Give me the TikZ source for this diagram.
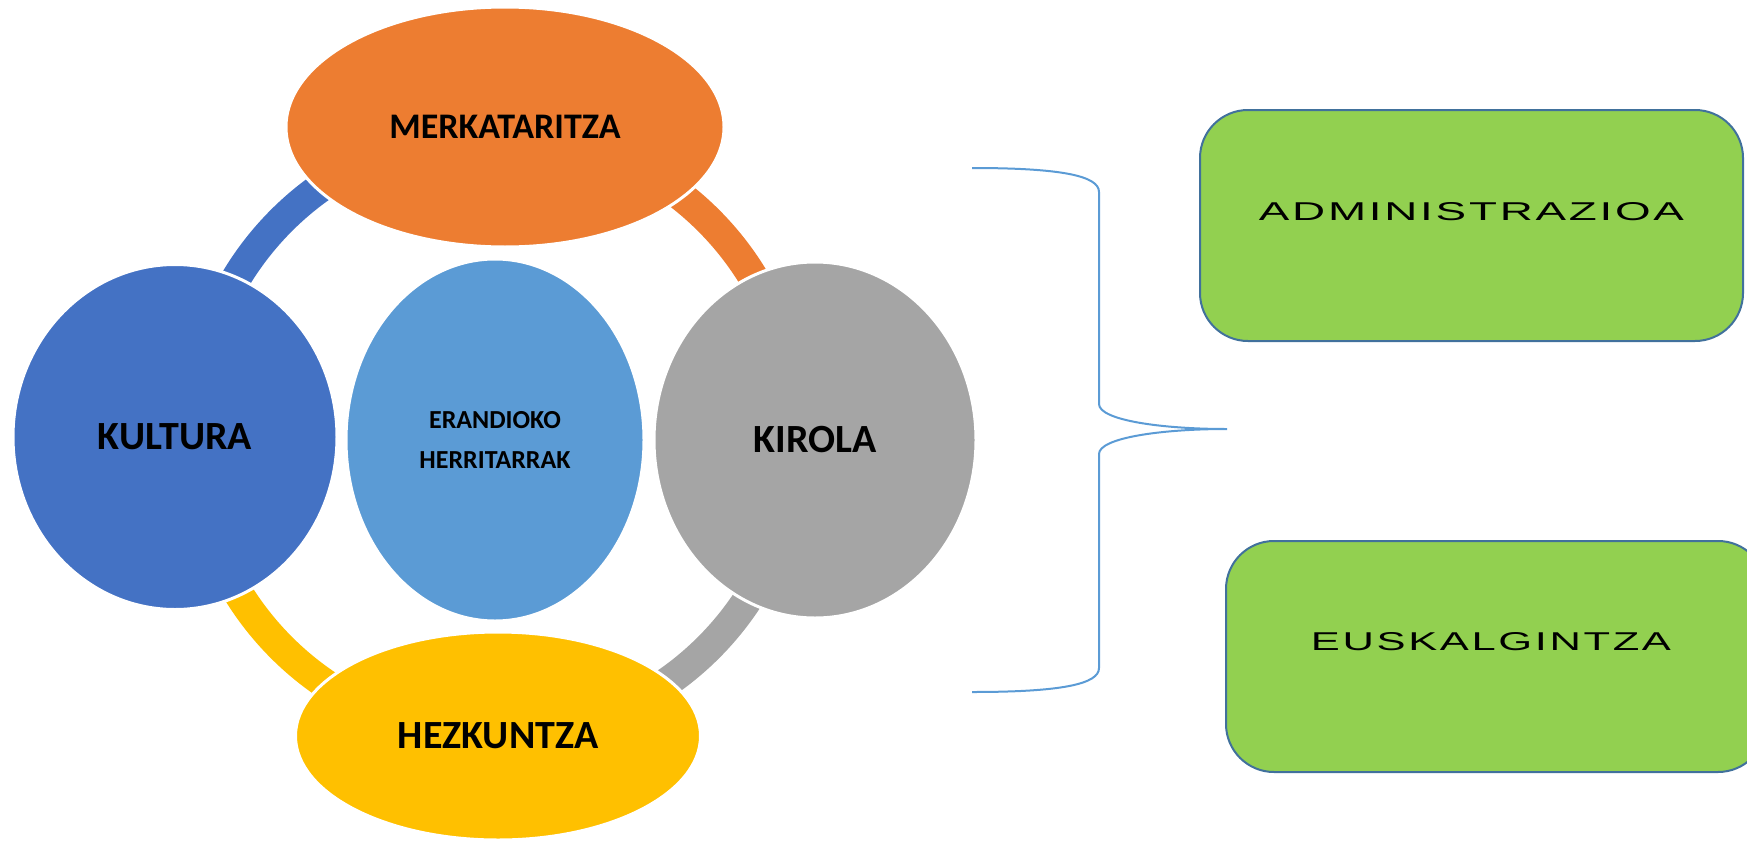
\documentclass[tikz,border=0pt]{standalone}
\usepackage{fontspec}
\usetikzlibrary{shapes.geometric}
\newfontfamily\calibri{Carlito}
\newfontfamily\arialfont{Liberation Sans}
\definecolor{merkorange}{HTML}{ED7D31}
\definecolor{kulturablue}{HTML}{4472C4}
\definecolor{herriblue}{HTML}{5B9BD5}
\definecolor{kirolagray}{HTML}{A5A5A5}
\definecolor{hezkyellow}{HTML}{FFC000}
\definecolor{areagreen}{HTML}{92D050}
\definecolor{boxedge}{HTML}{41719C}
\begin{document}
\begin{tikzpicture}[x=1pt, y=-1pt,
  bubble/.style={ellipse, draw=white, line width=3pt, inner sep=0pt,
    font=\calibri\bfseries\fontsize{40}{48}\selectfont},
  cyclearc/.style={line width=30pt},
  areabox/.style={rectangle, rounded corners=48pt, fill=areagreen,
    draw=boxedge, line width=2pt, inner sep=0pt, minimum height=231pt},
  bracket/.style={draw=herriblue, line width=2pt}]
    \newcommand{\areaLabel}[2]{
        \resizebox{#1}{18pt}{\arialfont\addfontfeature{LetterSpace=6}#2}
    }
  \useasboundingbox (0,0) rectangle (1747,843);
  \coordinate (hub) at (495,434);
  \foreach \col/\a in {kulturablue/180, merkorange/270, kirolagray/0, hezkyellow/90}
    \draw[cyclearc, color=\col] (hub) ++(\a:302) arc[start angle=\a, delta angle=90, radius=302];
  \node[bubble, fill=merkorange, minimum width=438pt, minimum height=240pt,
    font=\calibri\bfseries\fontsize{36}{44}\selectfont] (merkataritza) at (505,127) {MERKATARITZA};
  \node[bubble, fill=kulturablue, minimum width=324pt, minimum height=345pt] (kultura) at (175,437) {KULTURA};
  \node[bubble, fill=herriblue, minimum width=298pt, minimum height=362pt, align=center,
    font=\calibri\bfseries\fontsize{26}{40}\selectfont] (herritarrak) at (495,440) {ERANDIOKO\\HERRITARRAK};
  \node[bubble, fill=kirolagray, minimum width=322pt, minimum height=356pt] (kirola) at (815,440) {KIROLA};
  \node[bubble, fill=hezkyellow, minimum width=405pt, minimum height=208pt] (hezkuntza) at (498,736) {HEZKUNTZA};
  \coordinate (brace top) at (972,168);
  \coordinate (brace tip) at (1227,429);
  \coordinate (brace bottom) at (972,692);
  \draw[bracket] (brace top) .. controls (1062,168) and (1099,176) .. (1099,192)
    -- (1099,404) .. controls (1099,420) and (1160,429) .. (brace tip)
    .. controls (1160,429) and (1099,438) .. (1099,454)
    -- (1099,668) .. controls (1099,684) and (1062,692) .. (brace bottom);
  \node[areabox, minimum width=543pt] (administrazioa) at (1471.5,225.5) {};
  \node at ([yshift=13.5pt]administrazioa.center) {\areaLabel{425pt}{ADMINISTRAZIOA}};
  \node[areabox, minimum width=540pt] (euskalgintza) at (1496,656.5) {};
  \node at ([yshift=14.5pt,xshift=-5pt]euskalgintza.center) {\areaLabel{360pt}{EUSKALGINTZA}};
\end{tikzpicture}
\end{document}
